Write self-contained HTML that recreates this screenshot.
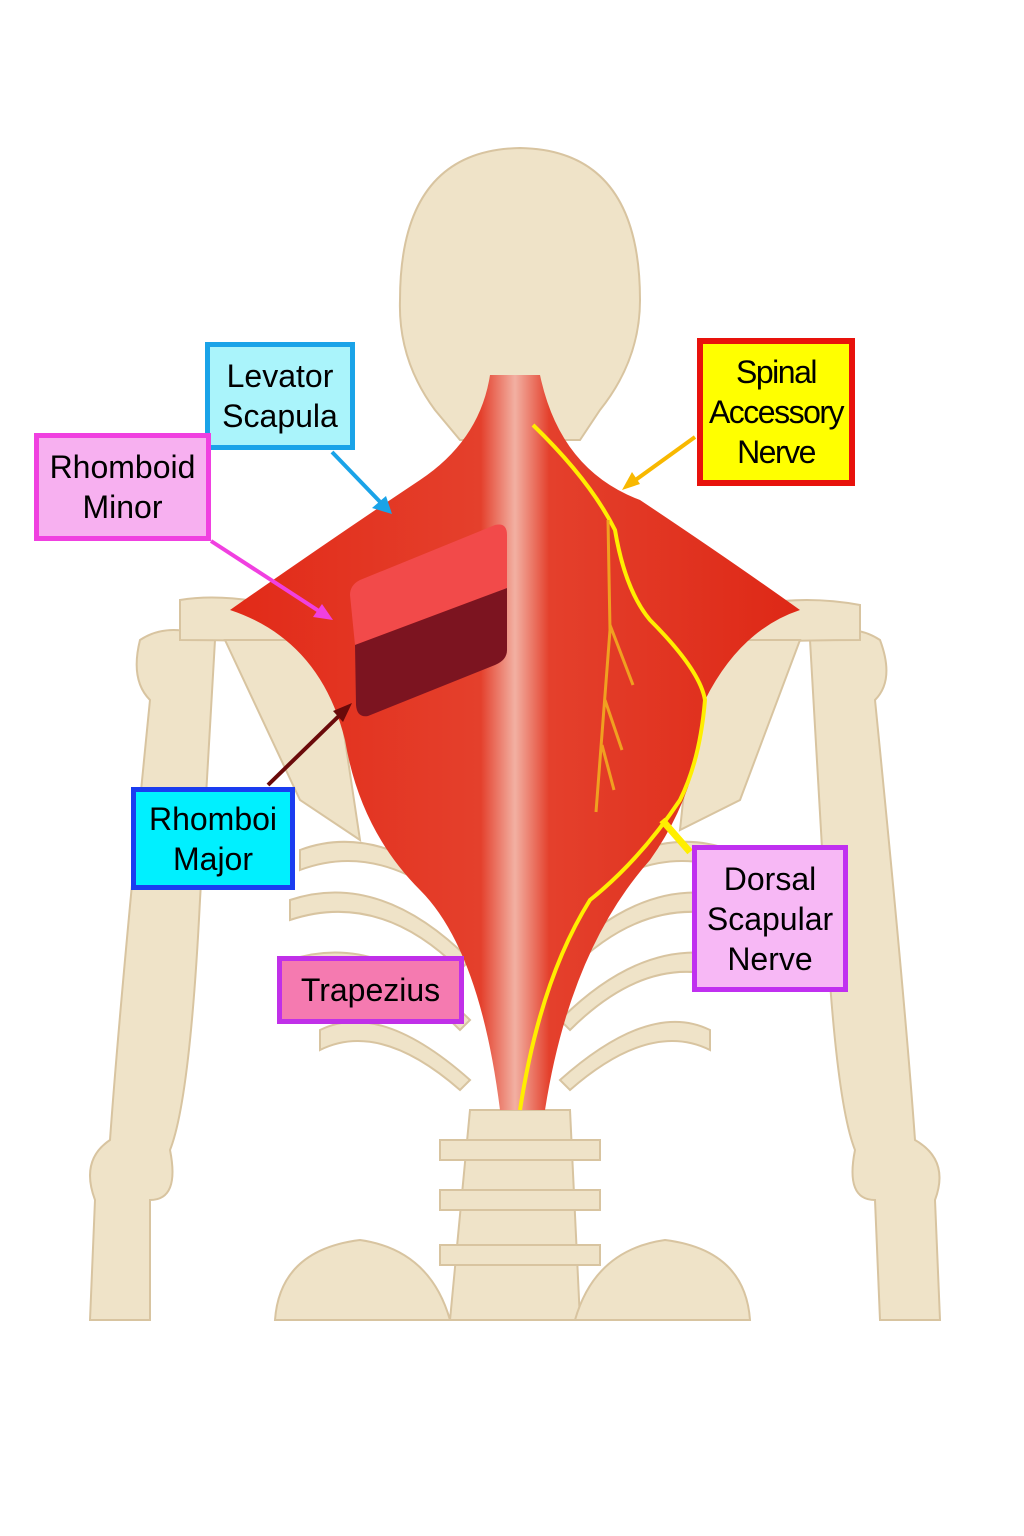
<!DOCTYPE html>
<html><head><meta charset="utf-8"><style>
body{margin:0;background:#fff;}
.l{position:absolute;box-sizing:border-box;display:flex;align-items:center;justify-content:center;text-align:center;font-family:"Liberation Sans",sans-serif;font-size:32px;line-height:40px;color:#000;}
</style></head><body>
<div style="position:relative;width:1024px;height:1536px;overflow:hidden;">
<svg width="1024" height="1536" style="position:absolute;left:0;top:0">
<defs>
<linearGradient id="sp" x1="0" x2="1"><stop offset="0" stop-color="#e22a18"/><stop offset=".44" stop-color="#e4402c"/><stop offset=".5" stop-color="#f2b0a2"/><stop offset=".56" stop-color="#e4402c"/><stop offset="1" stop-color="#de2816"/></linearGradient>
</defs>
<g fill="#efe3c8" stroke="#d8c4a0" stroke-width="2">
<path d="M140 640 Q170 620 215 640 L200 900 Q190 1100 170 1150 Q180 1200 150 1200 L150 1320 L90 1320 L95 1200 Q80 1160 110 1140 Q120 1000 150 700 Q130 680 140 640Z"/>
<path d="M880 640 Q850 620 810 640 L825 900 Q835 1100 855 1150 Q845 1200 875 1200 L880 1320 L940 1320 L935 1200 Q950 1160 915 1140 Q905 1000 875 700 Q895 680 880 640Z"/>
<path d="M180 600 Q240 590 330 620 L330 645 Q260 640 180 640Z"/>
<path d="M700 620 Q780 590 860 605 L860 640 Q780 640 700 645Z"/>
<path d="M225 640 L330 640 L360 840 L300 800 Z"/>
<path d="M700 640 L800 640 L740 800 L680 830 Z"/>
<path d="M300 850 Q380 820 470 900 L460 910 Q380 840 300 870Z"/>
<path d="M290 900 Q380 870 470 960 L460 970 Q380 890 290 920Z"/>
<path d="M290 960 Q380 930 470 1020 L460 1030 Q380 950 300 980Z"/>
<path d="M320 1030 Q380 1000 470 1080 L460 1090 Q380 1020 320 1050Z"/>
<path d="M730 850 Q650 820 560 900 L570 910 Q650 840 730 870Z"/>
<path d="M740 900 Q650 870 560 960 L570 970 Q650 890 740 920Z"/>
<path d="M740 960 Q650 930 560 1020 L570 1030 Q650 950 730 980Z"/>
<path d="M710 1030 Q650 1000 560 1080 L570 1090 Q650 1020 710 1050Z"/>
<path d="M470 1110 L570 1110 L580 1320 L450 1320Z"/>
<path d="M440 1140 L600 1140 L600 1160 L440 1160Z M440 1190 L600 1190 L600 1210 L440 1210Z M440 1245 L600 1245 L600 1265 L440 1265Z"/>
<path d="M275 1320 Q280 1250 360 1240 Q430 1250 450 1320Z"/>
<path d="M750 1320 Q745 1250 665 1240 Q595 1250 575 1320Z"/>
<path d="M520 148 Q640 150 640 300 Q640 360 600 410 L580 440 L460 440 L435 410 Q398 360 400 300 Q400 150 520 148Z"/>
</g>
<path d="M490 375 L540 375 Q560 470 640 500 Q730 560 800 610 Q740 630 705 700 Q700 790 650 860 Q570 950 545 1110 L500 1110 Q480 950 420 890 Q360 830 345 740 Q320 640 230 610 Q330 540 420 480 Q480 440 490 375Z" fill="url(#sp)"/>
<path d="M360 580 L495 525 Q507 522 507 535 L507 588 L355 645 L350 595 Q350 585 360 580Z" fill="#f24a4a"/>
<path d="M355 645 L507 588 L507 650 Q507 660 495 665 L368 716 Q357 718 356 705Z" fill="#7c1420"/>
<path d="M533 425 Q590 480 615 530 Q625 590 650 620 Q700 670 705 700 Q700 760 680 800 Q640 860 590 900 Q540 980 520 1110" fill="none" stroke="#ffee00" stroke-width="4"/>
<path d="M608 520 L610 630 L596 812 M610 625 L633 685 M605 700 L622 750 M602 745 L614 790" fill="none" stroke="#f0a020" stroke-width="3"/>
<g stroke-width="4" fill="none">
<line x1="332" y1="452" x2="385" y2="507" stroke="#1aa3e8"/>
<line x1="211" y1="541" x2="325" y2="615" stroke="#f040e0"/>
<line x1="268" y1="785" x2="345" y2="710" stroke="#6a0a0a"/>
<line x1="695" y1="437" x2="630" y2="484" stroke="#f8b800"/>
<line x1="690" y1="852" x2="662" y2="820" stroke="#ffee00" stroke-width="7"/>
</g>
<polygon points="392,514 372,508 386,496" fill="#1aa3e8"/>
<polygon points="333,620 313,617 322,604" fill="#f040e0"/>
<polygon points="352,703 343,722 333,711" fill="#6a0a0a"/>
<polygon points="622,490 632,472 640,484" fill="#f8b800"/>
</svg>
<div class="l" style="left:205px;top:342px;width:150px;height:108px;background:#aaf4fb;border:5px solid #1aa3e8;">Levator<br>Scapula</div>
<div class="l" style="left:34px;top:433px;width:177px;height:108px;background:#f7b0f0;border:5px solid #f040e0;">Rhomboid<br>Minor</div>
<div class="l" style="left:697px;top:338px;width:158px;height:148px;background:#ffff00;border:6px solid #e8120c;letter-spacing:-1.5px;">Spinal<br>Accessory<br>Nerve</div>
<div class="l" style="left:131px;top:787px;width:164px;height:103px;background:#00f0ff;border:5px solid #1a3cf0;">Rhomboi<br>Major</div>
<div class="l" style="left:277px;top:956px;width:187px;height:68px;background:#f57ab0;border:5px solid #c030e8;">Trapezius</div>
<div class="l" style="left:692px;top:845px;width:156px;height:147px;background:#f7b8f5;border:5px solid #c030f0;">Dorsal<br>Scapular<br>Nerve</div>
</div>
</body></html>
